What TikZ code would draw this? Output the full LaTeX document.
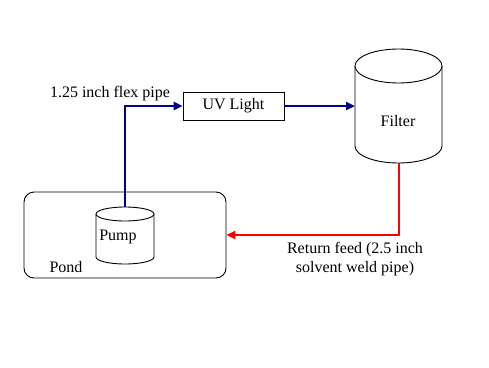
\documentclass[tikz,border=0pt]{standalone}
\usepackage{fontspec}
\setmainfont{Liberation Serif}
\usetikzlibrary{arrows.meta}
\definecolor{pipeblue}{RGB}{0,0,140}
\definecolor{pipered}{RGB}{255,0,0}
\begin{document}
\begin{tikzpicture}[x=1pt,y=1pt,
  every node/.style={font=\fontsize{16pt}{19pt}\selectfont, inner sep=0pt},
  thinline/.style={draw=black, line width=0.9pt},
  bluepipe/.style={draw=pipeblue, line width=2.6pt, -{Triangle[length=9pt,width=8pt]}},
  redpipe/.style={draw=pipered, line width=2.6pt, -{Triangle[length=9pt,width=8pt]}},
  lbl/.style={text=black}]
\useasboundingbox[fill=white] (0,0) rectangle (489,-367);
% Pond
\node[thinline, rounded corners=10pt, minimum width=202pt, minimum height=86pt] (pond) at (125,-235) {};
\node[lbl] (pondlbl) at (66,-267) {Pond};
% Pump cylinder
\filldraw[thinline, fill=white] (96,-214) -- (96,-257) arc[start angle=180, end angle=360, x radius=29, y radius=7] -- (154,-214);
\filldraw[thinline, fill=white] (125,-214) ellipse[x radius=29, y radius=7];
\node[lbl] (pumplbl) at (118,-237) {Pump};
\coordinate (pumptop) at (125,-207);
% UV light
\node[thinline, minimum width=101pt, minimum height=28pt] (uv) at (233.5,-106) {UV Light};
% Filter cylinder
\filldraw[thinline, fill=white] (355,-66) -- (355,-146) arc[start angle=180, end angle=360, x radius=43.5, y radius=17] -- (442,-66);
\filldraw[thinline, fill=white] (398.5,-66) ellipse[x radius=43.5, y radius=17];
\node[lbl] (filterlbl) at (398,-121) {Filter};
\coordinate (filterleft) at (355,-106);
\coordinate (filterbottom) at (399,-163);
% Pipes
\draw[bluepipe] (pumptop) |- (uv.west);
\draw[bluepipe] (uv.east) -- (filterleft);
\draw[redpipe] (filterbottom) |- (pond.east);
% Labels
\node[lbl] (flexlbl) at (110,-94) {1.25 inch flex pipe};
\node[lbl, align=center] (retlbl) at (355,-259.5) {Return feed (2.5 inch\\solvent weld pipe)};
\end{tikzpicture}
\end{document}
